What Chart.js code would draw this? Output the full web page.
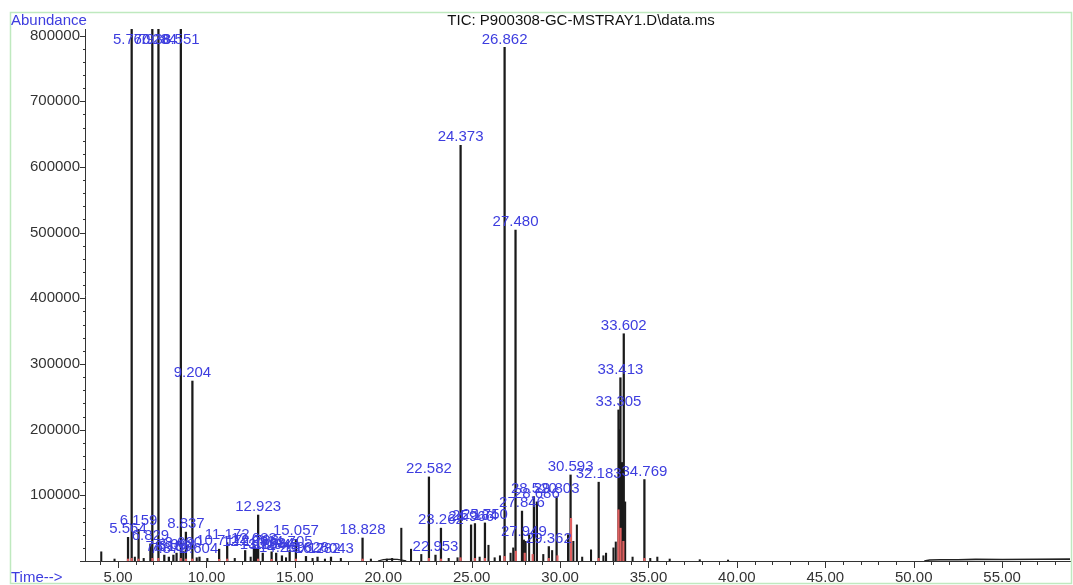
<!DOCTYPE html>
<html>
<head>
<meta charset="utf-8">
<script src="https://cdn.jsdelivr.net/npm/chart.js@4.4.1/dist/chart.umd.min.js"></script>
<style>body{margin:0;background:#fff}</style>
</head>
<body>
<canvas id="tic" width="1073" height="585"></canvas>
<script>
// labelled peaks: retention time (min) and abundance
var labelRT = [5.564, 5.770, 6.159, 6.829, 6.938, 7.284, 7.615, 7.872, 8.130, 8.308, 8.551, 8.690, 8.837, 9.204, 9.604,
  10.717, 11.172, 12.189, 12.683, 12.798, 12.923, 13.184, 13.684, 13.942, 14.269, 14.705, 15.057, 15.628, 16.282, 17.043,
  18.828, 22.582, 22.953, 23.262, 24.373, 24.966, 25.184, 25.750, 26.862, 27.480, 27.846, 27.949, 28.520, 28.686,
  29.362, 29.803, 30.593, 32.183, 33.305, 33.413, 33.602, 34.769];
var labelAbund = [36000, 1500000, 48000, 26000, 1400000, 1300000, 9000, 6000, 9000, 12000, 1200000, 15000, 44000, 274000, 6000,
  18000, 28000, 16000, 22000, 18000, 70000, 12000, 14000, 12000, 8000, 16000, 33000, 7000, 6000, 6000,
  35000, 128000, 9000, 50000, 633000, 55000, 57000, 58000, 782000, 504000, 76000, 32000, 98000, 90000,
  22000, 98000, 131000, 120000, 230000, 279000, 346000, 124000];

// unlabelled peaks
var minorRT = [4.05, 4.80, 5.95, 6.45, 9.45, 10.05, 11.60, 12.50, 14.50, 16.00, 16.70, 17.60, 19.30, 20.20, 20.50,
  21.02, 21.57, 22.15, 23.70, 24.20, 25.45, 25.95, 26.30, 26.60, 27.20, 27.35, 28.05, 28.25, 29.05, 29.55,
  30.45, 30.75, 30.95, 31.25, 31.75, 32.45, 32.60, 33.02, 33.15, 33.36, 33.50, 33.68, 34.10, 35.10, 35.50, 36.20, 37.90, 39.50];
var minorAbund = [14000, 3000, 6000, 4000, 5000, 4000, 4000, 6000, 5000, 4000, 3000, 4000, 3000, 3000, 4000,
  50000, 18000, 10000, 4000, 5000, 6000, 24000, 5000, 8000, 12000, 20000, 30000, 40000, 10000, 16000,
  40000, 30000, 55000, 6000, 17000, 8000, 12000, 20000, 29000, 200000, 150000, 90000, 6000, 4000, 6000, 3000, 2000, 1500];

// red integration marks at peak bases
var redRT = [5.56, 5.77, 6.16, 6.94, 7.28, 8.55, 8.84, 9.20, 10.72, 11.17, 12.92, 13.68, 15.06, 18.83, 22.58, 23.26,
  24.37, 25.18, 25.75, 26.86, 27.50, 28.00, 28.45, 29.36, 29.85, 30.62, 32.18, 33.30, 33.42, 33.58, 34.77];
var redAbund = [3000, 4000, 3000, 4000, 4000, 4000, 3000, 3000, 2500, 3000, 3000, 2500, 3000, 3000, 4000, 3000,
  5000, 4000, 4000, 7000, 15000, 12000, 10000, 4000, 8000, 65000, 4000, 78000, 50000, 30000, 4000];

// baseline bleed / humps
var humpRT = [19.7, 20.0, 20.4, 20.8, 21.3];
var humpAbund = [0, 2000, 3000, 2500, 300];
var bleedRT = [50.6, 50.9, 51.5, 52.5, 53.5, 55.0, 57.0, 58.84];
var bleedAbund = [0, 1500, 2000, 1800, 2500, 2200, 2600, 2800];

var xTicks = [5, 10, 15, 20, 25, 30, 35, 40, 45, 50, 55];
var yTicks = [100000, 200000, 300000, 400000, 500000, 600000, 700000, 800000];

var FONT = '"Liberation Sans", Arial, sans-serif';

function pts(xs, ys) {
  return xs.map(function (v, i) { return {x: v, y: ys[i]}; });
}

var decor = {
  id: 'decor',
  afterDatasetsDraw: function (chart) {
    var ctx = chart.ctx, a = chart.chartArea, x = chart.scales.x, y = chart.scales.y;
    ctx.save();
    ctx.font = '15px ' + FONT;
    ctx.fillStyle = '#3d3ddf';
    ctx.textAlign = 'center';
    ctx.textBaseline = 'alphabetic';
    labelRT.forEach(function (t, i) {
      var px = x.getPixelForValue(t);
      var py = y.getPixelForValue(Math.min(labelAbund[i], y.max)) - 4;
      py = Math.max(py, a.top + 15);
      ctx.fillText(t.toFixed(3), px, py);
    });
    ctx.restore();
  },
  afterDraw: function (chart) {
    var ctx = chart.ctx, a = chart.chartArea, x = chart.scales.x, y = chart.scales.y;
    ctx.save();
    // frame
    ctx.strokeStyle = '#bfe9bf';
    ctx.lineWidth = 1.5;
    ctx.strokeRect(10.5, 12.5, 1061, 571);
    // tick marks
    ctx.strokeStyle = '#333';
    ctx.lineWidth = 1;
    ctx.beginPath();
    for (var v = 4; v <= 58; v++) {
      var px = Math.round(x.getPixelForValue(v)) + 0.5;
      var len = v % 5 === 0 ? 7 : 4;
      ctx.moveTo(px, a.bottom);
      ctx.lineTo(px, a.bottom + len);
    }
    for (var w = 0; w <= 800000; w += 20000) {
      var py = Math.round(y.getPixelForValue(w)) + 0.5;
      var l2 = w % 100000 === 0 ? 5 : 2;
      ctx.moveTo(a.left, py);
      ctx.lineTo(a.left - l2, py);
    }
    ctx.stroke();
    // texts
    ctx.font = '15px ' + FONT;
    ctx.textBaseline = 'middle';
    ctx.fillStyle = '#3d3ddf';
    ctx.textAlign = 'left';
    ctx.fillText('Abundance', 11, 21);
    ctx.fillText('Time-->', 11, 578);
    ctx.fillStyle = '#111';
    ctx.textAlign = 'center';
    ctx.fillText('TIC: P900308-GC-MSTRAY1.D\\data.ms', 581, 21);
    ctx.restore();
  }
};

new Chart(document.getElementById('tic'), {
  type: 'bar',
  data: {
    datasets: [
      {data: pts(redRT, redAbund), backgroundColor: '#e06060', barThickness: 1.5, borderWidth: 0, grouped: false},
      {data: pts(labelRT, labelAbund), backgroundColor: '#1a1a1a', barThickness: 1.6, borderWidth: 0, grouped: false},
      {data: pts(minorRT, minorAbund), backgroundColor: '#1a1a1a', barThickness: 1.4, borderWidth: 0, grouped: false},
      {type: 'line', data: pts(humpRT, humpAbund), borderColor: '#222', borderWidth: 1.2, pointRadius: 0, tension: 0},
      {type: 'line', data: pts(bleedRT, bleedAbund), borderColor: '#222', borderWidth: 1.6, pointRadius: 0, tension: 0}
    ]
  },
  options: {
    responsive: false,
    animation: false,
    layout: {padding: {left: 10, top: 29, right: 3, bottom: 0}},
    plugins: {legend: {display: false}, tooltip: {enabled: false}},
    scales: {
      x: {
        type: 'linear', min: 3.13, max: 58.84, offset: false,
        grid: {display: false, drawTicks: false},
        border: {color: '#333', width: 1},
        afterBuildTicks: function (s) { s.ticks = xTicks.map(function (v) { return {value: v}; }); },
        afterFit: function (s) { s.height = 24; },
        ticks: {
          autoSkip: false, maxRotation: 0, padding: 8, color: '#333', font: {family: FONT, size: 15},
          callback: function (v) { return v.toFixed(2); }
        }
      },
      y: {
        min: 0, max: 810000,
        grid: {display: false, drawTicks: false},
        border: {color: '#333', width: 1},
        afterBuildTicks: function (s) { s.ticks = yTicks.map(function (v) { return {value: v}; }); },
        afterFit: function (s) { s.width = 75; },
        ticks: {
          padding: 5, color: '#333', font: {family: FONT, size: 15},
          callback: function (v) { return String(v); }
        }
      }
    }
  },
  plugins: [decor]
});
</script>
</body>
</html>
